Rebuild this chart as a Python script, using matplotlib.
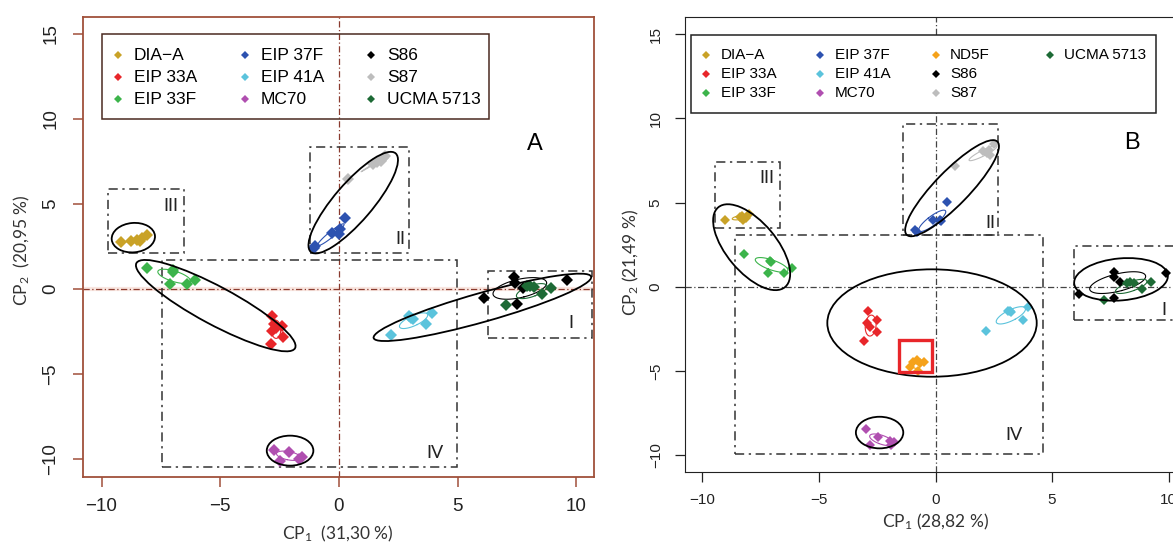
import numpy as np
import matplotlib.pyplot as plt
from matplotlib.patches import Ellipse, Rectangle
from matplotlib.lines import Line2D
from matplotlib.transforms import Affine2D, ScaledTranslation

plt.rcParams['font.family'] = ['Liberation Sans', 'DejaVu Sans']
plt.rcParams['mathtext.fontset'] = 'custom'
plt.rcParams['mathtext.rm'] = 'Lato'
plt.rcParams['mathtext.it'] = 'Lato:italic'
plt.rcParams['mathtext.bf'] = 'Lato:bold'

W, H = 1173, 544

colors = {
    'DIA\u2212A': '#c9a227', 'EIP 33A': '#e8262a', 'EIP 33F': '#3cb44b',
    'EIP 37F': '#2d52b0', 'EIP 41A': '#5bc3dc', 'MC70': '#b04fb0',
    'ND5F': '#f5a21b', 'S86': '#000000', 'S87': '#bdbdbd', 'UCMA 5713': '#1d6a35',
}

# panel A scores (CP1, CP2)
a_pc1 = {
    'DIA\u2212A': [-9.2, -8.75, -8.5, -8.3, -8.1, -8.4],
    'EIP 33A': [-2.8, -2.75, -2.4, -2.8, -2.65, -2.35, -2.85],
    'EIP 33F': [-8.07, -6.98, -7.0, -7.12, -6.41, -6.06],
    'EIP 37F': [-1.0, -1.05, -0.3, 0.0, 0.05, 0.25],
    'EIP 41A': [2.2, 2.95, 3.05, 3.1, 3.65, 3.9],
    'MC70': [-2.75, -2.1, -2.5, -1.7, -1.55],
    'S86': [6.1, 7.35, 7.4, 7.5, 7.75, 9.6],
    'S87': [0.4, 1.45, 1.6, 1.75, 1.95, 1.85],
    'UCMA 5713': [7.05, 7.9, 8.05, 8.2, 8.55, 8.95],
}
a_pc2 = {
    'DIA\u2212A': [2.75, 2.85, 2.9, 3.0, 3.2, 2.8],
    'EIP 33A': [-1.6, -2.05, -2.15, -2.45, -2.3, -2.8, -3.25],
    'EIP 33F': [1.25, 0.97, 1.1, 0.28, 0.31, 0.55],
    'EIP 37F': [2.55, 2.4, 3.3, 3.25, 3.5, 4.15],
    'EIP 41A': [-2.7, -1.6, -1.7, -1.75, -2.05, -1.4],
    'MC70': [-9.45, -9.6, -10.1, -10.0, -9.9],
    'S86': [-0.55, 0.7, 0.35, -0.9, 0.05, 0.55],
    'S87': [6.45, 7.35, 7.45, 7.55, 7.8, 7.7],
    'UCMA 5713': [-0.95, 0.15, 0.2, 0.1, -0.3, 0.05],
}

# panel B scores (CP1, CP2)
b_pc1 = {
    'DIA\u2212A': [-9.05, -8.4, -8.25, -8.3, -8.0, -8.15],
    'EIP 33A': [-2.9, -2.95, -2.8, -2.5, -2.5, -3.05],
    'EIP 33F': [-8.2, -7.1, -7.05, -7.2, -6.5, -6.15],
    'EIP 37F': [-0.9, -0.8, -0.1, 0.25, 0.2, 0.5],
    'EIP 41A': [2.15, 3.1, 3.2, 3.25, 3.75, 3.95],
    'MC70': [-3.0, -2.45, -2.8, -1.95, -1.8, -1.9],
    'ND5F': [-1.1, -0.95, -0.8, -0.65, -0.5, -0.75],
    'S86': [6.15, 7.65, 7.65, 7.9, 9.9, 7.65],
    'S87': [0.85, 2.05, 2.2, 2.3, 2.5, 2.35],
    'UCMA 5713': [7.25, 8.2, 8.35, 8.5, 8.85, 9.25],
}
b_pc2 = {
    'DIA\u2212A': [4.0, 4.15, 3.95, 4.2, 4.35, 4.1],
    'EIP 33A': [-1.4, -2.15, -2.35, -1.95, -2.7, -3.2],
    'EIP 33F': [1.95, 1.55, 1.5, 0.85, 0.85, 1.15],
    'EIP 37F': [3.4, 3.25, 4.0, 3.9, 3.95, 5.05],
    'EIP 41A': [-2.6, -1.45, -1.4, -1.5, -1.95, -1.2],
    'MC70': [-8.45, -8.9, -9.35, -9.15, -9.2, -9.35],
    'ND5F': [-4.75, -4.45, -4.35, -4.5, -4.45, -5.0],
    'S86': [-0.4, 0.9, 0.6, 0.3, 0.8, -0.65],
    'S87': [7.15, 8.05, 7.95, 8.15, 8.5, 7.85],
    'UCMA 5713': [-0.75, 0.25, 0.3, 0.25, -0.15, 0.3],
}

# cluster ellipses: centre (data), semi axes (px), angle (deg)
a_clusters = [(-5.19, -0.98, 90, 19, -28.2), (0.6, 5.08, 65, 19, 49.3),
              (6.04, -1.08, 113, 14.5, 15.75), (-8.66, 3.02, 21.7, 14.7, 5),
              (-2.06, -9.51, 23.3, 15, 0)]
b_clusters = [(-7.89, 2.36, 52, 25, -50), (0.71, 5.86, 65, 17, 45.8),
              (-0.15, -2.14, 104.7, 53.7, 0), (7.96, 0.45, 47, 21, 5),
              (-2.4, -8.64, 23.7, 15.8, 0)]

# dash-dot group boxes: x0, x1, y0, y1, label, label x, label y
a_boxes = [(-9.71, -6.53, 2.12, 5.89, 'III', -7.1, 4.9),
           (-1.21, 2.95, 2.12, 8.36, 'II', 2.57, 2.96),
           (-7.46, 4.97, -10.47, 1.7, 'IV', 4.05, -9.65),
           (6.29, 10.64, -2.89, 1.07, 'I', 9.77, -2.0)]
b_boxes = [(-9.46, -6.67, 3.48, 7.44, 'III', -7.24, 6.45),
           (-1.41, 2.7, 3.09, 9.67, 'II', 2.34, 3.78),
           (-8.6, 4.61, -9.91, 3.09, 'IV', 3.37, -8.78),
           (5.96, 12.0, -1.96, 2.43, 'I', 9.78, -1.36)]

fig = plt.figure(figsize=(W / 100, H / 100), dpi=100)
px = Affine2D().scale(1 / W, -1 / H).translate(0, 1) + fig.transFigure


def cov_ellipse(ax, x, y, color):
    x = np.asarray(x)
    y = np.asarray(y)
    vals, vecs = np.linalg.eigh(np.cov(x, y))
    t = np.linspace(0, 2 * np.pi, 120)
    pts = vecs @ (np.sqrt(np.clip(vals, 0, None))[:, None] * np.vstack([np.cos(t), np.sin(t)]))
    ax.plot(x.mean() + pts[0], y.mean() + pts[1], color=color, lw=0.8, zorder=3)


def draw_panel(ax, pc1, pc2, clusters, boxes, frame, zcol, ms):
    ax.axvline(0, color=zcol, lw=0.9, ls=(0, (5, 2, 1, 2)), zorder=1)
    ax.axhline(0, color=zcol, lw=0.9, ls=(0, (5, 2, 1, 2)), zorder=1)
    for x0, x1, y0, y1, lab, lx, ly in boxes:
        ax.add_patch(Rectangle((x0, y0), x1 - x0, y1 - y0, fill=False, ec='#333333',
                               lw=1.1, ls=(0, (6, 3, 1.5, 3)), zorder=2))
        ax.text(lx, ly, lab, fontsize=13, family=['Lato', 'DejaVu Sans'],
                ha='center', va='center', color='#222222')
    for g in pc1:
        ax.plot(pc1[g], pc2[g], 'D', ms=ms, mew=0, color=colors[g], zorder=4)
        cov_ellipse(ax, pc1[g], pc2[g], colors[g])
    for cx, cy, a, b, ang in clusters:
        tr = fig.dpi_scale_trans + ScaledTranslation(cx, cy, ax.transData)
        ax.add_patch(Ellipse((0, 0), 2 * a / 100, 2 * b / 100, angle=ang, transform=tr,
                             fill=False, ec='black', lw=1.3, zorder=5))
    for s in ax.spines.values():
        s.set_color(frame)
    ax.set_xticks([-10, -5, 0, 5, 10])
    ax.set_yticks([-10, -5, 0, 5, 10, 15])
    ax.tick_params(direction='out', length=7, color=frame, labelcolor='#222222')
    for t in ax.get_yticklabels():
        t.set_rotation(90)
        t.set_va('center')


def draw_legend(labels, box, col_mx, col_tx, rows, fs, edge, face):
    x0, y0, x1, y1 = box
    fig.add_artist(Rectangle((x0, y0), x1 - x0, y1 - y0, transform=px, fill=face is not None,
                             fc=face or 'none', ec=edge, lw=1.1))
    for i, lab in enumerate(labels):
        c, r = divmod(i, 3)
        fig.add_artist(Line2D([col_mx[c]], [rows[r]], marker='D', ms=4, mew=0,
                              color=colors[lab], transform=px))
        fig.text(col_tx[c], rows[r], lab, transform=px, va='center', fontsize=fs)


# ---- panel A
ax_a = fig.add_axes([83 / W, (H - 477) / H, 511 / W, 460 / H])
ax_a.set_xlim(-10.78, 10.74)
ax_a.set_ylim(-11.06, 16.0)
ax_a.axhline(0, color='#f9e6e0', lw=3, zorder=0)
draw_panel(ax_a, a_pc1, a_pc2, a_clusters, a_boxes, '#a0503a', '#8a3a2e', 6.3)
for s in ax_a.spines.values():
    s.set_linewidth(1.3)
ax_a.tick_params(labelsize=13.5, width=1.1)
ax_a.tick_params(axis='x', pad=8)
ax_a.tick_params(axis='y', pad=10)
ax_a.text(8.25, 8.54, 'A', fontsize=17, ha='center', va='center')

# ---- panel B (right edge runs past the figure)
ax_b = fig.add_axes([685 / W, (H - 472) / H, 518.5 / W, 455 / H])
ax_b.set_xlim(-10.75, 11.5)
ax_b.set_ylim(-10.98, 16.02)
draw_panel(ax_b, b_pc1, b_pc2, b_clusters, b_boxes, '#222222', '#444444', 5.5)
ax_b.add_patch(Rectangle((-1.57, -5.06), 1.43, 1.91, fill=False, ec='#e8262a', lw=2.4, zorder=6))
ax_b.tick_params(labelsize=11, width=0.9)
ax_b.tick_params(axis='x', pad=8)
ax_b.tick_params(axis='y', pad=9)
ax_b.text(8.43, 8.55, 'B', fontsize=17, ha='center', va='center')

# legends
draw_legend(['DIA\u2212A', 'EIP 33A', 'EIP 33F', 'EIP 37F', 'EIP 41A', 'MC70',
             'S86', 'S87', 'UCMA 5713'],
            (101.6, 34.3, 488.9, 119.3), [118, 244.5, 370.5], [134, 260.7, 387],
            [55, 77, 99], 12.5, '#4a2a20', None)
draw_legend(['DIA\u2212A', 'EIP 33A', 'EIP 33F', 'EIP 37F', 'EIP 41A', 'MC70',
             'ND5F', 'S86', 'S87', 'UCMA 5713'],
            (691.4, 35, 1156.3, 112.7), [706, 820, 936, 1050], [721, 835, 950, 1064],
            [55, 74, 93], 11, '#222222', 'white')

# axis titles
lab_font = ['Lato', 'DejaVu Sans']
fig.text(338, 534, 'CP$_1$  (31,30 %)', transform=px, ha='center', va='center',
         fontsize=12.5, family=lab_font, color='#333333')
fig.text(22, 250, 'CP$_2$  (20,95 %)', transform=px, ha='center', va='center',
         rotation=90, fontsize=12.5, family=lab_font, color='#333333')
fig.text(936, 522, 'CP$_1$ (28,82 %)', transform=px, ha='center', va='center',
         fontsize=12.5, family=lab_font, color='#333333')
fig.text(631, 262, 'CP$_2$ (21,49 %)', transform=px, ha='center', va='center',
         rotation=90, fontsize=12.5, family=lab_font, color='#333333')

fig.savefig('out.png', dpi=100)
